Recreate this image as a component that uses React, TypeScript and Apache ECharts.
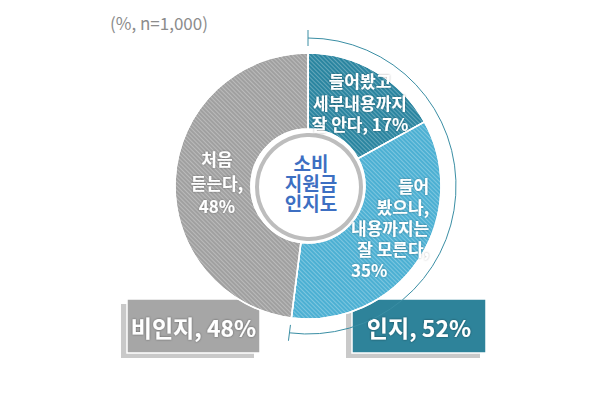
import React, { useEffect, useRef } from "react";
import * as echarts from "echarts";

const categories = ["들어봤고 세부내용까지 잘 안다", "들어봤으나, 내용까지는 잘 모른다", "처음 듣는다"];
const values = [17, 35, 48];
const sliceColors = ["#2a85a0", "#4cb0d3", "#a0a0a0"];
const groupLabels = ["인지", "비인지"];
const groupValues = [52, 48];
const noteText = "(%, n=1,000)";
const centerTitle = ["소비", "지원금", "인지도"];

export default function App() {
  const ref = useRef<HTMLDivElement>(null);
  useEffect(() => {
    document.body.style.margin = "0";
    const chart = echarts.init(ref.current!, null, { renderer: "svg" });
    const cx = 308;
    const cy = 186;
    const family = "Noto Sans CJK KR";
    const shadow = { textShadowColor: "rgba(0,0,0,0.35)", textShadowBlur: 2 };
    const block = (text: string, x: number, y: number, lh: number) => ({
      type: "text",
      x,
      y,
      z: 20,
      style: {
        text,
        fill: "#ffffff",
        fontFamily: family,
        fontSize: 17,
        fontWeight: "bold",
        lineHeight: lh,
        align: "center",
        verticalAlign: "middle",
        ...shadow,
      },
    });
    const awareTotal = groupValues[0];
    const arcEnd = -Math.PI / 2 + (awareTotal / 100) * Math.PI * 2;
    const arcR = 148;
    const tick = (ang: number) => ({
      type: "line",
      z: 5,
      shape: {
        x1: cx + (arcR - 8) * Math.cos(ang),
        y1: cy + (arcR - 8) * Math.sin(ang),
        x2: cx + (arcR + 8) * Math.cos(ang),
        y2: cy + (arcR + 8) * Math.sin(ang),
      },
      style: { stroke: "#3a8ea4", lineWidth: 1 },
    });
    const box = (x: number, y: number, w: number, h: number, fill: string, text: string) => ({
      type: "group",
      z: 30,
      children: [
        { type: "rect", shape: { x: x - 6, y: y + 5, width: w, height: h }, style: { fill: "#c9c9c9" } },
        { type: "rect", shape: { x, y, width: w, height: h }, style: { fill, stroke: "#ffffff", lineWidth: 1.5 } },
        {
          type: "text",
          x: x + w / 2,
          y: y + h / 2 + 1,
          style: {
            text,
            fill: "#ffffff",
            fontFamily: family,
            fontSize: 23,
            fontWeight: "bold",
            align: "center",
            verticalAlign: "middle",
            textShadowColor: "rgba(0,0,0,0.45)",
            textShadowBlur: 2,
          },
        },
      ],
    });
    const rt = { fill: "#ffffff", fontFamily: family, fontSize: 17, fontWeight: "bold", lineHeight: 21 };
    chart.setOption({
      animation: false,
      series: [
        {
          type: "pie",
          center: [cx, cy],
          radius: [57, 133],
          startAngle: 90,
          clockwise: true,
          label: { show: false },
          labelLine: { show: false },
          emphasis: { disabled: true },
          itemStyle: { borderColor: "#ffffff", borderWidth: 1.5 },
          data: categories.map((name, i) => ({
            name,
            value: values[i],
            itemStyle: {
              color: sliceColors[i],
              decal: {
                symbol: "rect",
                symbolSize: 1,
                dashArrayX: [1, 0],
                dashArrayY: [1, 2],
                rotation: Math.PI / 4,
                color: "rgba(255,255,255,0.28)",
              },
            },
          })),
        },
      ],
      graphic: [
        {
          type: "text",
          x: 110,
          y: 22,
          style: { text: noteText, fill: "#8c8c8c", fontFamily: family, fontSize: 17, verticalAlign: "middle" },
        },
        {
          type: "arc",
          z: 5,
          shape: { cx, cy, r: arcR, startAngle: -Math.PI / 2, endAngle: arcEnd, clockwise: true },
          style: { stroke: "#3a8ea4", lineWidth: 1, fill: "none" },
        },
        tick(-Math.PI / 2),
        tick(arcEnd),
        {
          type: "circle",
          z: 10,
          shape: { cx: cx + 1, cy: cy + 1, r: 52 },
          style: { fill: "#ffffff", stroke: "#bdbdbd", lineWidth: 4 },
        },
        {
          type: "text",
          x: cx + 3,
          y: 182,
          z: 11,
          style: {
            text: centerTitle.join("\n"),
            fill: "#3d6fc2",
            fontFamily: family,
            fontSize: 19,
            fontWeight: "bold",
            lineHeight: 20,
            align: "center",
            verticalAlign: "middle",
          },
        },
        block(`들어봤고\n세부내용까지\n잘 안다, ${values[0]}%`, 360, 102, 21.5),
        {
          type: "text",
          x: 351,
          y: 227,
          z: 20,
          style: {
            text: `{r|들어}\n{r|봤으나,}\n{r|내용까지는}\n{r|잘 모른다,}\n{l|${values[1]}%}`,
            align: "left",
            verticalAlign: "middle",
            ...shadow,
            rich: {
              r: { ...rt, align: "right" },
              l: { ...rt, align: "left" },
            },
          },
        },
        block(`처음\n듣는다,\n${values[2]}%`, 217, 182, 23.5),
        box(127, 299, 133, 54, "#a6a6a6", `${groupLabels[1]}, ${groupValues[1]}%`),
        box(352, 299, 134, 54, "#2e839a", `${groupLabels[0]}, ${groupValues[0]}%`),
      ],
    });
    return () => chart.dispose();
  }, []);
  return <div ref={ref} style={{ width: 590, height: 393 }} />;
}
